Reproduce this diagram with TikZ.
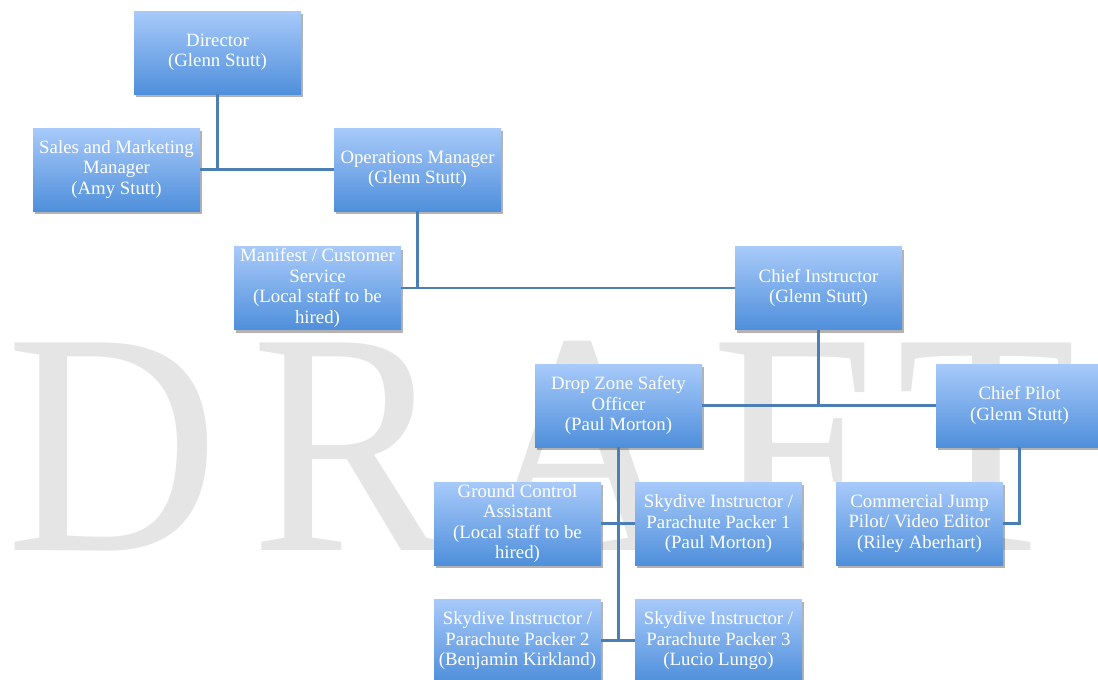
\documentclass[tikz,border=0pt]{standalone}
\usepackage{fontspec}
\setmainfont{Liberation Serif}
\usetikzlibrary{shadows}
\definecolor{boxtop}{HTML}{A8CAFA}
\definecolor{boxbot}{HTML}{4F8FDB}
\definecolor{linecol}{HTML}{4A7EB5}
\definecolor{wm}{HTML}{E5E5E5}
\tikzset{
  role/.style={rectangle, minimum width=167pt, minimum height=83pt,
    align=center, inner sep=0pt, top color=boxtop, bottom color=boxbot, text=white,
    font=\fontsize{18.8}{20.5}\selectfont,
    drop shadow={shadow xshift=2pt, shadow yshift=-3pt, opacity=0.3, fill=black}},
  conn/.style={draw=linecol, line width=2.3pt},
  wmletter/.style={text=wm, font=\fontsize{317}{317}\selectfont, anchor=base, inner sep=0pt, xscale=0.93}
}
\begin{document}
\begin{tikzpicture}[x=1pt,y=-1pt]
\useasboundingbox (0,0) rectangle (1098,680);
\clip (0,0) rectangle (1098,680);
% watermark
\node[wmletter] (wD) at (113,550) {D};
\node[wmletter] (wR) at (350,550) {R};
\node[wmletter] (wA) at (580,550) {A};
\node[wmletter] (wF) at (793,550) {F};
\node[wmletter] (wT) at (987,550) {T};
% boxes
\node[role] (dir) at (217.5,52.5) {Director\\(Glenn Stutt)};
\node[role] (sales) at (116.5,169.5) {Sales and Marketing\\Manager\\(Amy Stutt)};
\node[role] (ops) at (417.5,169.5) {Operations Manager\\(Glenn Stutt)};
\node[role] (man) at (317.5,288) {Manifest / Customer\\Service\\(Local staff to be\\hired)};
\node[role] (ci) at (818.5,288) {Chief Instructor\\(Glenn Stutt)};
\node[role] (dz) at (618.5,405.5) {Drop Zone Safety\\Officer\\(Paul Morton)};
\node[role] (cp) at (1019.5,405.5) {Chief Pilot\\(Glenn Stutt)};
\node[role] (gc) at (517.5,523.5) {Ground Control\\Assistant\\(Local staff to be\\hired)};
\node[role] (s1) at (718.5,523.5) {Skydive Instructor /\\Parachute Packer 1\\(Paul Morton)};
\node[role] (cj) at (919.5,523.5) {Commercial Jump\\Pilot/ Video Editor\\(Riley Aberhart)};
\node[role] (s2) at (517.5,640.5) {Skydive Instructor /\\Parachute Packer 2\\(Benjamin Kirkland)};
\node[role] (s3) at (718.5,640.5) {Skydive Instructor /\\Parachute Packer 3\\(Lucio Lungo)};
% connectors
\draw[conn] (dir.south) -- (dir.south |- sales.east);
\draw[conn] (sales.east) -- (ops.west);
\draw[conn] (ops.south) -- (ops.south |- man.east);
\draw[conn] (man.east) -- (ci.west);
\draw[conn] (ci.south) -- (ci.south |- dz.east);
\draw[conn] (dz.east) -- (cp.west);
\draw[conn] (dz.south) -- (dz.south |- s2.east);
\draw[conn] (gc.east) -- (s1.west);
\draw[conn] (s2.east) -- (s3.west);
\draw[conn] (cp.south) |- (cj.east);
\end{tikzpicture}
\end{document}
